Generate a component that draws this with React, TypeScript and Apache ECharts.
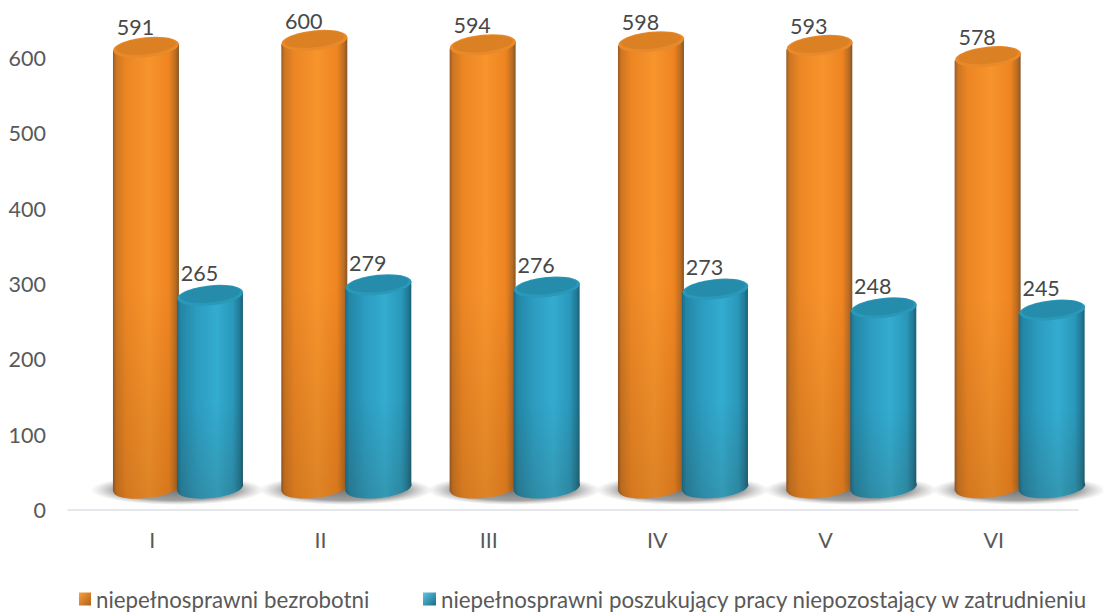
import React, { useEffect, useRef } from "react";
import * as echarts from "echarts";

const categories = ["I", "II", "III", "IV", "V", "VI"];
const bezrobotni = [591, 600, 594, 598, 593, 578];
const poszukujacy = [265, 279, 276, 273, 248, 245];
const seriesNames = ["niepełnosprawni bezrobotni", "niepełnosprawni poszukujący pracy niepozostający w zatrudnieniu"];

const FONT = "Lato, 'Open Sans', sans-serif";
const LABEL = "#484848";
const AXIS_TEXT = "#595959";
const ang = (6 * Math.PI) / 180;

const lin = (stops: [number, string][]) =>
  new echarts.graphic.LinearGradient(0, 0, 1, 0, stops.map(([offset, color]) => ({ offset, color })));

const orangeSide = lin([[0, "#9a5a22"], [0.05, "#cc7622"], [0.2, "#ec8624"], [0.55, "#f7942c"], [0.85, "#ee8420"], [0.95, "#b86c22"], [1, "#86552a"]]);
const blueSide = lin([[0, "#1c6a85"], [0.06, "#2386a6"], [0.3, "#2c9cc0"], [0.6, "#33acd0"], [0.85, "#2a98ba"], [0.95, "#217a96"], [1, "#1b5f78"]]);
const orangeIcon = new echarts.graphic.LinearGradient(0, 0, 1, 1, [{ offset: 0, color: "#f7a040" }, { offset: 1, color: "#b0601a" }]);
const blueIcon = new echarts.graphic.LinearGradient(0, 0, 1, 1, [{ offset: 0, color: "#5cc8e4" }, { offset: 1, color: "#1c6a85" }]);
const shadeBody = new echarts.graphic.LinearGradient(0, 0, 0, 1, [
  { offset: 0, color: "rgba(60,30,0,0)" },
  { offset: 0.55, color: "rgba(60,30,0,0)" },
  { offset: 1, color: "rgba(60,30,0,0.13)" },
]);
const shadowFill = new echarts.graphic.RadialGradient(0.5, 0.5, 0.5, [
  { offset: 0, color: "rgba(80,80,80,0.8)" },
  { offset: 0.7, color: "rgba(100,100,100,0.6)" },
  { offset: 1, color: "rgba(150,150,150,0)" },
]);

function makeCylinder(
  offsetX: number,
  topShift: number,
  labelShift: number,
  side: any,
  rim: string,
  inner: string,
  withShadow: boolean
) {
  return (params: any, api: any) => {
    const i = api.value(0);
    const v = api.value(1);
    const [cx0, y0] = api.coord([i, 0]);
    const [, yv] = api.coord([i, v]);
    const cx = cx0 + offsetX;
    const baseY = y0 - 22;
    const topY = yv + topShift;
    const rx = 33;
    const ry = 10;
    const s = rx * Math.sin(ang);
    const body = [
      [cx - rx, topY + s],
      [cx + rx, topY - s],
      [cx + rx, baseY - s],
      [cx - rx, baseY + s],
    ];
    const children: any[] = [];
    if (withShadow) {
      children.push({
        type: "ellipse",
        shape: { cx: cx + 31.5, cy: baseY + 2, rx: 87, ry: 15 },
        style: { fill: shadowFill },
        silent: true,
      });
    }
    const tilted = (cy: number, a: number, b: number, fill: any) => ({
      type: "ellipse",
      shape: { cx, cy, rx: a, ry: b },
      rotation: ang,
      originX: cx,
      originY: cy,
      style: { fill },
    });
    children.push(
      tilted(baseY, rx, ry, side),
      tilted(baseY, rx, ry, "rgba(60,30,0,0.13)"),
      { type: "polygon", shape: { points: body }, style: { fill: side } },
      { type: "polygon", shape: { points: body }, style: { fill: shadeBody } },
      tilted(topY, rx, ry, rim),
      tilted(topY - 1, rx - 3, ry - 2, inner),
      {
        type: "text",
        x: cx - 10.5,
        y: topY + labelShift,
        style: { text: String(v), fill: LABEL, font: `21.5px ${FONT}`, align: "center", verticalAlign: "middle" },
      }
    );
    return { type: "group", children };
  };
}

export default function App() {
  const ref = useRef<HTMLDivElement>(null);
  useEffect(() => {
    document.body.style.margin = "0";
    document.body.style.background = "#fff";
    const chart = echarts.init(ref.current!, undefined, { renderer: "svg" });
    const legendText = { fontFamily: FONT, fontSize: 22.3, color: AXIS_TEXT };
    chart.setOption({
      animation: false,
      backgroundColor: "#fff",
      grid: { left: 68, right: 25, top: 58, bottom: 102 },
      xAxis: {
        type: "category",
        data: categories,
        axisTick: { show: false },
        axisLine: { lineStyle: { color: "#dcdfe6", width: 1.5 } },
        axisLabel: { fontFamily: FONT, fontSize: 21.5, color: AXIS_TEXT, margin: 19 },
      },
      yAxis: {
        type: "value",
        min: 0,
        max: 600,
        interval: 100,
        splitLine: { show: false },
        axisLine: { show: false },
        axisTick: { show: false },
        axisLabel: { fontFamily: FONT, fontSize: 21.5, color: AXIS_TEXT, margin: 22 },
      },
      legend: [
        {
          data: [seriesNames[0]], left: 79, top: 588, itemWidth: 12, itemHeight: 13, itemGap: 5,
          icon: "rect", textStyle: legendText, selectedMode: false, padding: 0,
        },
        {
          data: [seriesNames[1]], left: 423, top: 588, itemWidth: 13, itemHeight: 13, itemGap: 5,
          icon: "rect", textStyle: legendText, selectedMode: false, padding: 0,
        },
      ],
      series: [
        {
          type: "custom",
          name: seriesNames[0],
          itemStyle: { color: orangeIcon },
          clip: false,
          renderItem: makeCylinder(-6.2, -17.5, -20, orangeSide, "#e98a2a", "#dc8024", true),
          data: bezrobotni.map((v, i) => [i, v]),
        },
        {
          type: "custom",
          name: seriesNames[1],
          itemStyle: { color: blueIcon },
          clip: false,
          renderItem: makeCylinder(57.8, -15, -22, blueSide, "#2a98b8", "#268cab", false),
          data: poszukujacy.map((v, i) => [i, v]),
        },
      ],
    });
    return () => chart.dispose();
  }, []);
  return <div ref={ref} style={{ width: 1103, height: 612 }} />;
}
